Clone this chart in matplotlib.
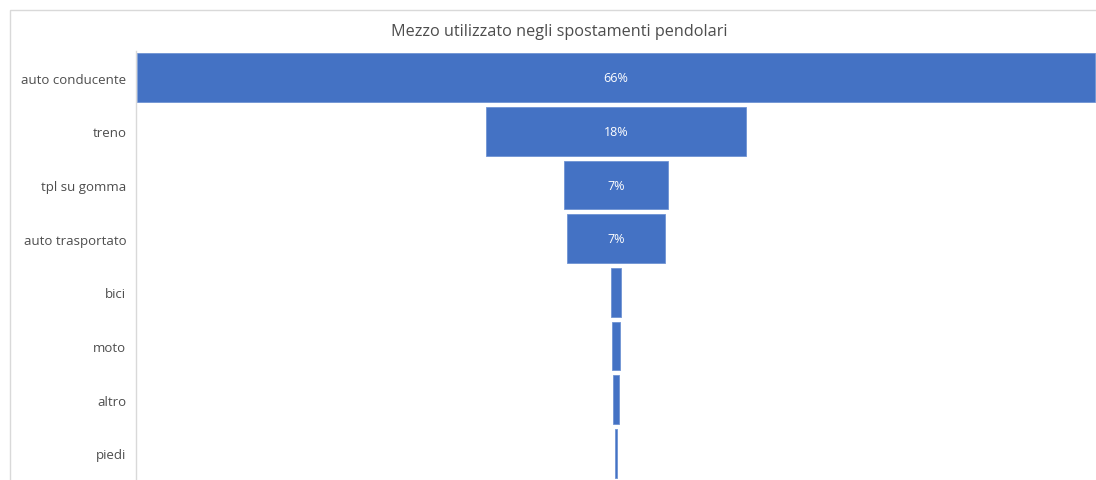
import matplotlib.pyplot as plt
from matplotlib.patches import Rectangle

# Share of each mode of transport for commuting (percent)
modes = ['auto conducente', 'treno', 'tpl su gomma', 'auto trasportato',
         'bici', 'moto', 'altro', 'piedi']
shares = [66.0, 17.9, 7.2, 6.8, 0.7, 0.55, 0.4, 0.2]
labelled = [True, True, True, True, False, False, False, False]

plt.rcParams['font.family'] = ['Open Sans', 'DejaVu Sans']

fig = plt.figure(figsize=(10.96, 4.81), dpi=100)

# Outer chart frame (runs off the right and bottom edges)
fig.patches.append(Rectangle((10 / 1096, -0.1), 1.2, 1 - 11 / 481 + 0.1,
                             transform=fig.transFigure, fill=False,
                             edgecolor='#d9d9d9', linewidth=1.0))

ax = fig.add_axes([136 / 1096, 0, 960 / 1096, (481 - 52) / 481])

# Funnel: bars centred on zero, top item first
y = list(range(len(modes)))
lefts = [-s / 2 for s in shares]
ax.barh(y, shares, left=lefts, height=0.91, color='#4472C4',
        edgecolor='#6f93d3', linewidth=0.6)

for yi, s, show in zip(y, shares, labelled):
    if show:
        ax.text(0, yi, f'{s:.0f}%', ha='center', va='center',
                color='white', fontsize=9)

half = max(shares) / 2
ax.set_xlim(-half - 0.05, half + 0.05)
ax.set_ylim(len(modes) - 0.5, -0.5)
ax.set_yticks(y)
ax.set_yticklabels(modes, color='#4d4d4d', fontsize=9.5)
ax.tick_params(axis='y', length=0, pad=7)
ax.set_xticks([])

for side in ['top', 'right', 'bottom']:
    ax.spines[side].set_visible(False)
ax.spines['left'].set_color('#d9d9d9')
ax.spines['left'].set_linewidth(1.0)

fig.text(559 / 1096, 1 - 32 / 481, 'Mezzo utilizzato negli spostamenti pendolari',
         ha='center', va='center', color='#4d4d4d', fontsize=11.7)

fig.savefig('out.png', dpi=100)
plt.close()
